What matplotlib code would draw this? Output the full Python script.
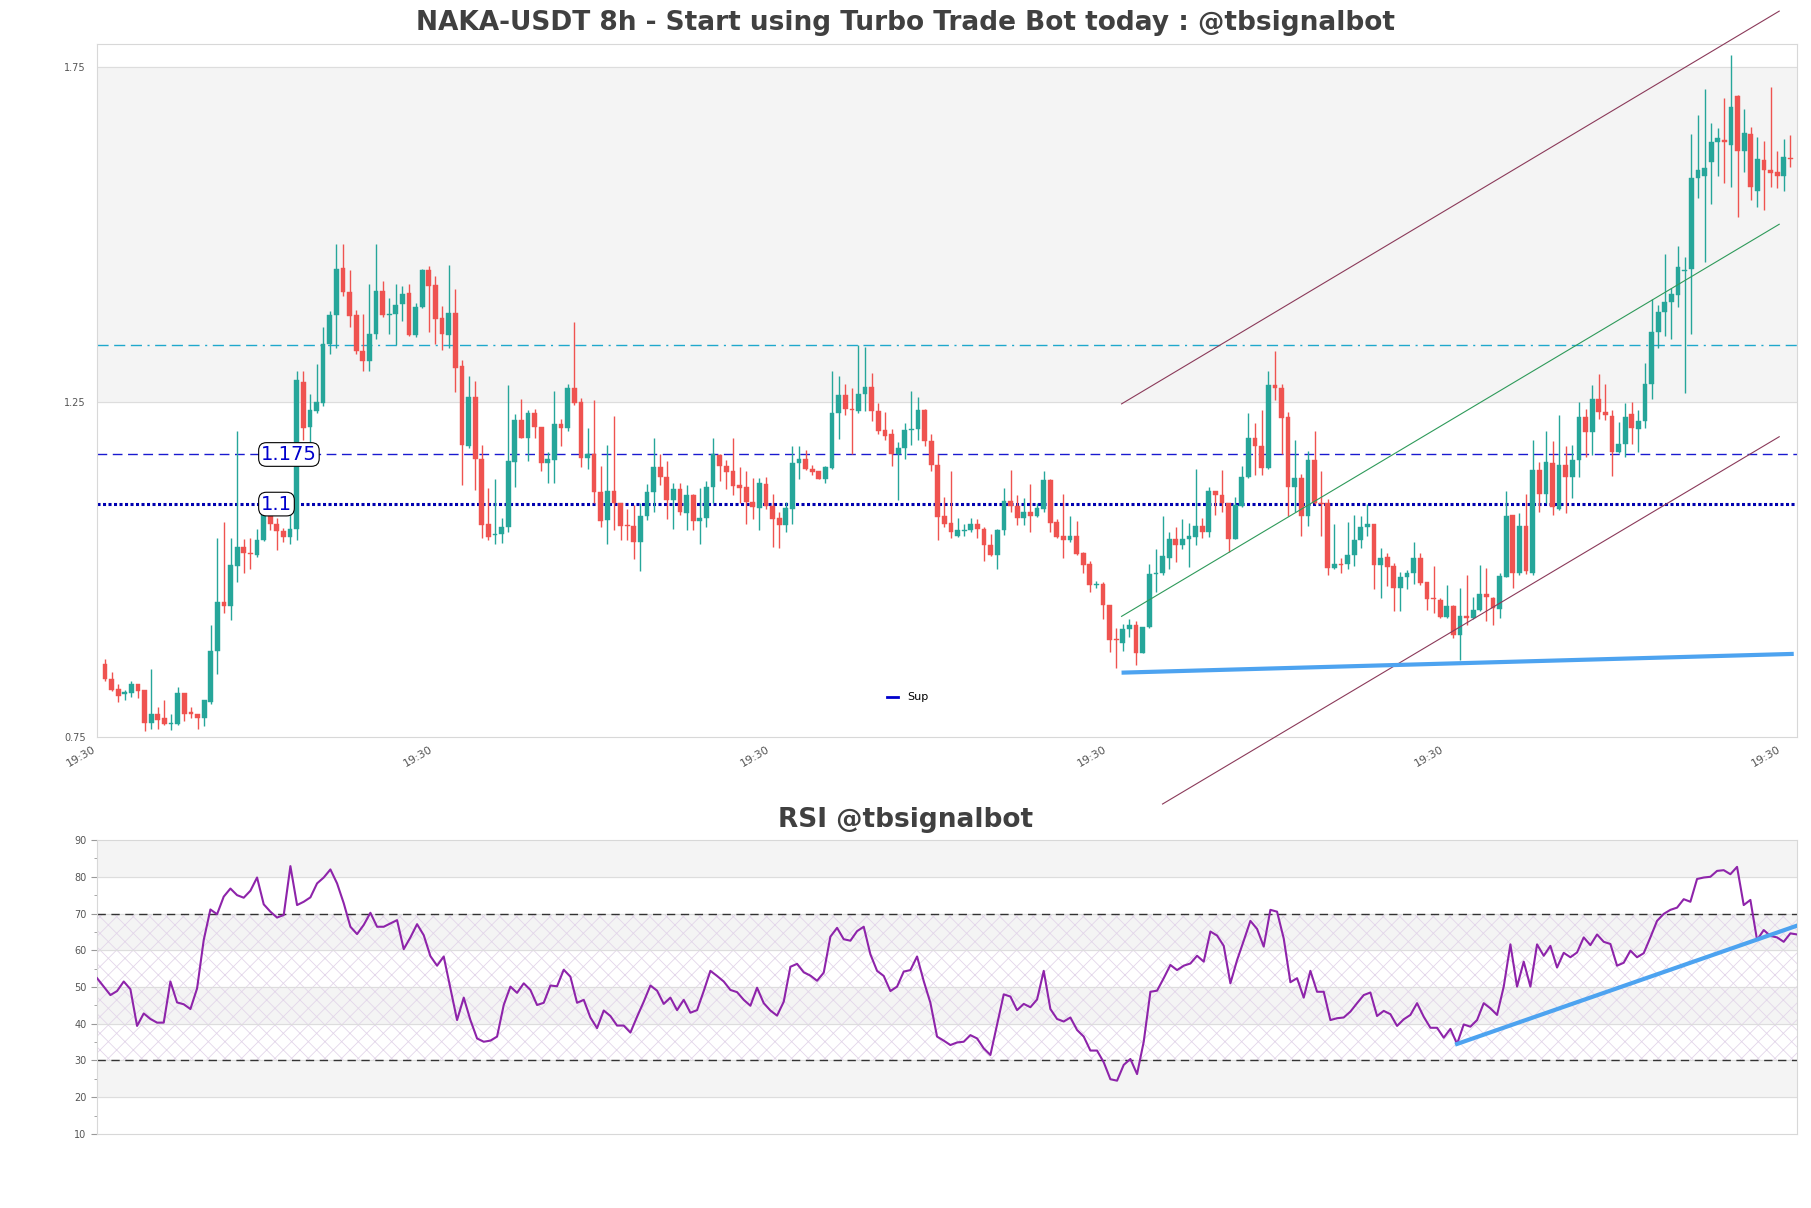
import numpy as np
import matplotlib
matplotlib.use("Agg")
import matplotlib.pyplot as plt
from matplotlib.lines import Line2D
from matplotlib.ticker import MultipleLocator, FixedLocator

# --- data (8h candles, index 0..255) ---
opens = [
    .859, .836, .8217, .8144, .8157, .829, .820, .771, .7845, .778,
    .769, .769, .8157, .787, .7845, .778, .8025, .8776, .9507, .9454,
    1.0053, 1.0339, 1.0252, 1.0219, 1.0439, 1.085, 1.0684, 1.0572, 1.0485, 1.0598,
    1.2799, 1.2128, 1.2367, 1.248, 1.3365, 1.3797, 1.4495, 1.4143, 1.379, 1.3265,
    1.3112, 1.3511, 1.4156, 1.379, 1.381, 1.3956, 1.4123, 1.3491, 1.3923, 1.4475,
    1.4242, 1.3757, 1.3497, 1.383, 1.3032, 1.1848, 1.258, 1.1649, 1.0684, 1.0512,
    1.0532, 1.0638, 1.1602, 1.2227, 1.1968, 1.2327, 1.2128, 1.1582, 1.1636, 1.2168,
    1.2114, 1.27, 1.2493, 1.1662, 1.1729, 1.115, 1.0731, 1.117, 1.0997, 1.0658,
    1.0651, 1.0405, 1.0804, 1.115, 1.1529, 1.1383, 1.103, 1.1203, 1.0837, 1.1117,
    1.0718, 1.0771, 1.1237, 1.1702, 1.1549, 1.1463, 1.1263, 1.123, 1.1004, 1.0917,
    1.127, 1.0951, 1.0771, 1.0665, 1.0904, 1.1582, 1.1649, 1.1503, 1.1463, 1.135,
    1.1516, 1.2334, 1.26, 1.2394, 1.236, 1.2613, 1.2726, 1.2367, 1.2081, 1.2015,
    1.1729, 1.1815, 1.2081, 1.2094, 1.238, 1.1915, 1.1562, 1.0798, 1.0698, 1.0505,
    1.0578, 1.0585, 1.0684, 1.0605, 1.0372, 1.0219, 1.0585, 1.1017, 1.095, 1.0771,
    1.0864, 1.0804, 1.0904, 1.1336, 1.0705, 1.0505, 1.0432, 1.0499, 1.0252, 1.0086,
    .9767, .9787, .9468, .8949, .8909, .9108, .9175, .8749, .9141, .9933,
    .994, 1.0173, 1.0452, 1.0372, 1.0452, 1.0485, 1.0651, 1.0552, 1.117, 1.1104,
    1.0984, 1.0452, 1.0951, 1.1383, 1.1961, 1.1835, 1.1516, 1.2759, 1.2713, 1.2281,
    1.123, 1.1363, 1.0804, 1.1636, 1.0984, 1.0984, 1.0019, 1.0079, 1.0086, 1.0219,
    1.0439, 1.0638, 1.0671, 1.0066, 1.0186, 1.0053, .972, .9887, .994, 1.0166,
    .9807, .9561, .954, .9288, .9454, .9022, .9308, .9275, .9388, .9634,
    .9574, .9408, .9886, 1.0818, .994, 1.0651, .9953, 1.1483, 1.113, 1.1583,
    1.0907, 1.1562, 1.1386, 1.1633, 1.2267, 1.2056, 1.2549, 1.2352, 1.2288, 1.1753,
    1.1866, 1.2317, 1.2091, 1.2211, 1.2761, 1.3536, 1.384, 1.3995, 1.41, 1.4453,
    1.4488, 1.5842, 1.5877, 1.6074, 1.6378, 1.6406, 1.6335, 1.7061, 1.625, 1.6497,
    1.5652, 1.611, 1.5962, 1.5933, 1.5863, 1.6145,
]
highs = [
    .867, .847, .829, .820, .834, .829, .820, .852, .7945, .8045,
    .7845, .8244, .8157, .7945, .7845, .8058, .9175, 1.0465, 1.0705, 1.0465,
    1.2068, 1.045, 1.0465, 1.0598, 1.0984, 1.093, 1.0771, 1.0618, 1.085, 1.2966,
    1.2966, 1.2613, 1.3059, 1.3611, 1.3863, 1.4854, 1.4854, 1.4462, 1.3877, 1.381,
    1.4256, 1.4854, 1.4309, 1.4043, 1.4256, 1.4229, 1.4256, 1.3976, 1.4488, 1.4522,
    1.4375, 1.393, 1.4542, 1.4189, 1.3132, 1.2879, 1.2806, 1.1862, 1.1217, 1.135,
    1.0764, 1.2759, 1.2314, 1.2547, 1.238, 1.2394, 1.2128, 1.1749, 1.2666, 1.2247,
    1.2766, 1.3697, 1.256, 1.2114, 1.2527, 1.1536, 1.1862, 1.2294, 1.0997, 1.0897,
    1.0964, 1.0984, 1.127, 1.1968, 1.1729, 1.1616, 1.1283, 1.1283, 1.1263, 1.113,
    1.1217, 1.1316, 1.1961, 1.1729, 1.1629, 1.1961, 1.1529, 1.1469, 1.1363, 1.1363,
    1.1383, 1.113, 1.0851, 1.1004, 1.1848, 1.1848, 1.1782, 1.1562, 1.1463, 1.1549,
    1.2966, 1.2892, 1.2766, 1.2713, 1.3345, 1.3325, 1.2926, 1.248, 1.2347, 1.2101,
    1.1895, 1.2181, 1.2666, 1.2566, 1.2394, 1.2028, 1.1729, 1.1084, 1.1463, 1.0771,
    1.0671, 1.0771, 1.0751, 1.0638, 1.0532, 1.0605, 1.1217, 1.1483, 1.1117, 1.1064,
    1.127, 1.0984, 1.1463, 1.135, 1.0751, 1.113, 1.0798, 1.0718, 1.0266, 1.0119,
    .9833, .982, .9468, .9122, .9188, .9255, .9228, .9141, 1.0086, 1.0305,
    1.0798, 1.0565, 1.0631, 1.0751, 1.0698, 1.1503, 1.0771, 1.123, 1.117, 1.1483,
    1.0984, 1.1084, 1.1549, 1.2327, 1.2181, 1.238, 1.2966, 1.3265, 1.2766, 1.2347,
    1.1928, 1.1429, 1.1768, 1.2068, 1.1463, 1.105, 1.0671, 1.0173, 1.0705, 1.0818,
    1.0804, 1.0971, 1.0671, 1.0319, 1.0252, 1.0099, .9966, .9986, 1.0405, 1.0252,
    .9807, 1.0053, .9567, .9774, .9468, .9721, .992, .9587, 1.0073, 1.002,
    .9587, .9953, 1.1163, 1.0818, 1.0838, 1.113, 1.1935, 1.1602, 1.2061, 1.1915,
    1.2303, 1.1844, 1.1858, 1.2493, 1.2387, 1.2747, 1.2916, 1.2761, 1.2373, 1.2197,
    1.2479, 1.2493, 1.2373, 1.3078, 1.403, 1.3938, 1.47, 1.4206, 1.4826, 1.4664,
    1.6497, 1.6779, 1.7167, 1.6659, 1.6589, 1.704, 1.7675, 1.7076, 1.6871, 1.6603,
    1.6448, 1.6392, 1.7202, 1.625, 1.6427, 1.6483,
]
lows = [
    .834, .819, .8025, .8058, .8104, .808, .759, .7626, .7626, .768,
    .7606, .768, .774, .779, .7626, .767, .799, .8444, .9355, .924,
    .982, .994, 1.0006, 1.0186, 1.042, 1.0585, 1.0285, 1.0405, 1.0385, 1.0439,
    1.1935, 1.1882, 1.2327, 1.2433, 1.3212, 1.3311, 1.4076, 1.3611, 1.3212, 1.2959,
    1.2959, 1.3444, 1.3764, 1.3511, 1.3345, 1.371, 1.3478, 1.3464, 1.3897, 1.3544,
    1.3358, 1.3278, 1.3311, 1.2646, 1.1263, 1.1815, 1.1183, 1.0465, 1.0439, 1.0385,
    1.0399, 1.0552, 1.1237, 1.1961, 1.1616, 1.1961, 1.1469, 1.1296, 1.1296, 1.1848,
    1.2061, 1.246, 1.1529, 1.1503, 1.0997, 1.0638, 1.0385, 1.0585, 1.0439, 1.0439,
    1.0153, .9973, 1.0738, 1.0851, 1.1263, 1.0751, 1.0598, 1.0818, 1.0585, 1.0585,
    1.0385, 1.0638, 1.0984, 1.1316, 1.1203, 1.1117, 1.0984, 1.0684, 1.0751, 1.0585,
    1.0904, 1.0339, 1.0319, 1.0565, 1.0684, 1.135, 1.1483, 1.1403, 1.135, 1.1283,
    1.1503, 1.1948, 1.23, 1.1715, 1.2327, 1.2367, 1.2214, 1.2015, 1.1935, 1.1549,
    1.103, 1.1649, 1.1862, 1.1928, 1.1835, 1.1469, 1.0439, 1.0638, 1.0465, 1.0485,
    1.0499, 1.0552, 1.0465, 1.0133, 1.0206, 1.0006, 1.0518, 1.0851, 1.0665, 1.0665,
    1.0552, 1.0785, 1.0864, 1.0565, 1.0472, 1.0166, 1.0405, 1.0219, .994, .9667,
    .972, .9255, .8769, .853, .8776, .8989, .8576, .8749, .9128, .9667,
    .992, 1.0006, 1.0106, 1.0306, 1.004, 1.0372, 1.0472, 1.0485, 1.0818, 1.0851,
    1.0266, 1.0452, 1.0931, 1.137, 1.1416, 1.1403, 1.1503, 1.2527, 1.1715, 1.0798,
    1.0851, 1.0505, 1.0651, 1.097, 1.0505, .992, 1.0006, .9953, 1.0006, 1.0053,
    1.0319, 1.0499, .9707, .9574, .9754, .9375, .9375, .9707, .9787, .9774,
    .9388, .9355, .9275, .9275, .8976, .8643, .9175, .9255, .9375, .9235,
    .9175, .9275, .9886, .972, .992, .9933, .992, 1.0864, 1.0984, 1.0808,
    1.0893, 1.0836, 1.1069, 1.1386, 1.1682, 1.1703, 1.2246, 1.2232, 1.14, 1.1739,
    1.1682, 1.1866, 1.1753, 1.2105, 1.2549, 1.3304, 1.348, 1.3445, 1.391, 1.2634,
    1.3515, 1.5546, 1.4594, 1.5454, 1.5863, 1.5771, 1.5708, 1.5264, 1.5934, 1.551,
    1.5405, 1.5369, 1.5701, 1.5687, 1.5652, 1.6004,
]
closes = [
    .836, .8204, .8111, .8177, .829, .819, .771, .7845, .776, .769,
    .7705, .8157, .7845, .7845, .778, .8045, .8776, .9507, .9454, 1.0066,
    1.0339, 1.0252, 1.0232, 1.0439, 1.0884, 1.0684, 1.0572, 1.0485, 1.0598, 1.2832,
    1.2114, 1.238, 1.2493, 1.3365, 1.3797, 1.4488, 1.4143, 1.3777, 1.3258, 1.3112,
    1.3511, 1.4156, 1.379, 1.381, 1.3943, 1.4109, 1.3491, 1.3923, 1.4475, 1.4229,
    1.3743, 1.3511, 1.383, 1.3012, 1.1862, 1.258, 1.1649, 1.0665, 1.0485, 1.0532,
    1.0638, 1.1616, 1.2234, 1.1968, 1.2327, 1.2128, 1.1582, 1.1649, 1.2168, 1.2114,
    1.27, 1.248, 1.1662, 1.1729, 1.115, 1.0718, 1.117, 1.0984, 1.0651, 1.0645,
    1.0405, 1.0804, 1.115, 1.1529, 1.1383, 1.103, 1.1203, 1.0851, 1.1104, 1.0718,
    1.0771, 1.1237, 1.1715, 1.1549, 1.1449, 1.125, 1.1217, 1.1004, 1.0931, 1.1283,
    1.0951, 1.0751, 1.0665, 1.0917, 1.1582, 1.1649, 1.1503, 1.1449, 1.135, 1.1529,
    1.2334, 1.26, 1.2394, 1.238, 1.2613, 1.2726, 1.2367, 1.2068, 1.1995, 1.1729,
    1.1815, 1.2081, 1.2101, 1.238, 1.1915, 1.1562, 1.0784, 1.0684, 1.0552, 1.0585,
    1.0592, 1.0684, 1.0605, 1.0372, 1.0219, 1.0585, 1.1017, 1.095, 1.0771, 1.0851,
    1.0804, 1.0917, 1.133, 1.0698, 1.0485, 1.0439, 1.0499, 1.0232, 1.0073, .9767,
    .9774, .9468, .8942, .8942, .9108, .9175, .8749, .9141, .9933, .9953,
    1.0199, 1.045, 1.0372, 1.0452, 1.0505, 1.0651, 1.0552, 1.117, 1.1104, 1.0984,
    1.0452, 1.0964, 1.1383, 1.1961, 1.1835, 1.1516, 1.2759, 1.2713, 1.2261, 1.123,
    1.1369, 1.0804, 1.1636, 1.0984, 1.0977, 1.0019, 1.0086, 1.0066, 1.0219, 1.0439,
    1.0631, 1.0671, 1.0066, 1.0173, 1.004, .972, .9887, .9953, 1.0166, .98,
    .9554, .9554, .9288, .9454, .9022, .9308, .9275, .9401, .9634, .9587,
    .9421, .9899, 1.0804, .994, 1.0651, .9973, 1.1483, 1.113, 1.1596, 1.0928,
    1.1562, 1.1386, 1.1633, 1.2267, 1.2056, 1.2549, 1.2352, 1.2303, 1.1753, 1.1866,
    1.2267, 1.2105, 1.2211, 1.2761, 1.355, 1.384, 1.3995, 1.4114, 1.4509, 1.446,
    1.5842, 1.5955, 1.5983, 1.6378, 1.6441, 1.6378, 1.6906, 1.625, 1.6512, 1.5701,
    1.6131, 1.5955, 1.5919, 1.5863, 1.6159, 1.6131,
]
rsi = [
    52.4, 50.1, 47.8, 48.9, 51.5, 49.4, 39.4, 42.8, 41.3, 40.3,
    40.3, 51.5, 45.8, 45.3, 44.0, 49.6, 62.8, 71.1, 69.8, 74.6,
    76.8, 75.0, 74.3, 76.2, 79.8, 72.5, 70.5, 68.9, 69.6, 82.9,
    72.3, 73.2, 74.4, 78.2, 79.8, 82.0, 78.2, 72.8, 66.4, 64.4,
    66.9, 70.2, 66.4, 66.4, 67.3, 68.2, 60.3, 63.5, 67.1, 64.1,
    58.4, 55.8, 58.3, 49.6, 41.0, 47.1, 41.0, 36.0, 35.1, 35.4,
    36.5, 45.1, 50.1, 48.4, 51.0, 49.2, 45.1, 45.7, 50.4, 50.2,
    54.7, 52.8, 45.7, 46.5, 41.7, 38.8, 43.6, 42.1, 39.5, 39.5,
    37.6, 41.9, 46.0, 50.4, 49.0, 45.4, 47.1, 43.7, 46.5, 43.0,
    43.7, 48.9, 54.4, 53.0, 51.5, 49.2, 48.6, 46.5, 44.9, 49.8,
    45.6, 43.6, 42.2, 46.0, 55.5, 56.3, 54.0, 53.1, 51.7, 53.9,
    63.7, 66.1, 63.0, 62.6, 65.2, 66.4, 58.9, 54.4, 53.0, 48.9,
    50.1, 54.2, 54.6, 58.3, 51.6, 45.7, 36.5, 35.4, 34.2, 34.9,
    35.1, 36.9, 36.0, 33.3, 31.5, 39.7, 48.0, 47.4, 43.7, 45.4,
    44.5, 46.6, 54.4, 44.0, 41.3, 40.6, 41.7, 38.3, 36.5, 32.7,
    32.7, 29.5, 24.9, 24.5, 28.8, 30.4, 26.3, 35.1, 48.7, 49.0,
    52.4, 56.0, 54.6, 55.8, 56.4, 58.5, 56.9, 65.1, 64.0, 61.2,
    51.0, 57.3, 62.6, 68.0, 65.8, 61.0, 71.0, 70.5, 63.2, 51.3,
    52.4, 47.1, 54.4, 48.7, 48.7, 41.0, 41.5, 41.7, 43.3, 45.6,
    47.8, 48.5, 42.1, 43.5, 42.6, 39.4, 41.2, 42.4, 45.6, 41.9,
    38.9, 38.9, 36.2, 38.6, 34.5, 39.8, 39.2, 41.0, 45.6, 44.2,
    42.4, 50.1, 61.6, 50.1, 56.9, 50.1, 61.6, 58.5, 61.2, 55.3,
    59.3, 58.1, 59.4, 63.5, 61.4, 64.3, 62.3, 61.7, 55.8, 56.6,
    59.9, 58.1, 59.2, 63.5, 68.0, 69.9, 71.0, 71.6, 73.9, 73.2,
    79.4, 79.8, 80.0, 81.6, 81.8, 80.7, 82.7, 72.3, 73.7, 62.8,
    65.5, 63.9, 63.5, 62.3, 64.6, 64.3,
]

# levels and trend lines
res_level = 1.335
lvl_upper = 1.1715
lvl_lower = 1.0975
lvl_labels = ["1.175", "1.1"]
chan_x = [153.8, 253.3]
chan_top = [1.247, 1.833]
chan_mid = [0.930, 1.515]
chan_low_x = [160.0, 253.3]
chan_low = [0.650, 1.198]
sup_x = [153.8, 255.5]
sup_y = [0.846, 0.874]
rsi_tr_x = [204, 255]
rsi_tr_y = [34.5, 66.7]
tick_pos = [-1.2, 49.8, 100.8, 151.8, 202.8, 253.8]
tick_lbl = ['19:30'] * 6

UP = '#26a69a'
DOWN = '#ef5350'
TXT = '#404040'

plt.rcParams['hatch.linewidth'] = 0.6
fig = plt.figure(figsize=(18.11, 12.08), dpi=100)
ax = fig.add_axes([0.0536, 0.3899, 0.9387, 0.5737])
ax2 = fig.add_axes([0.0536, 0.0613, 0.9387, 0.2433])

o = np.array(opens); h = np.array(highs); l = np.array(lows); c = np.array(closes)
x = np.arange(len(o))
up = c >= o
cols = np.where(up, UP, DOWN)

# --- main chart ---
ax.axhspan(1.25, 1.75, color='#f4f4f4', zorder=0)
for yv in (1.25, 1.75):
    ax.axhline(yv, color='#dddddd', lw=0.8, zorder=0.5)

ax.vlines(x, l, h, colors=cols, lw=1.0, zorder=2)
body = np.maximum(np.abs(c - o), 0.0015)
ax.bar(x, body, bottom=np.minimum(o, c), width=0.72, color=cols, edgecolor=cols, lw=0.3, zorder=3)

ax.axhline(res_level, color='#1fa8cc', lw=1.0, ls=(0, (8, 4, 8, 4, 8, 4, 1.5, 4)), zorder=1)
ax.axhline(lvl_upper, color='#1a1ad0', lw=1.0, ls=(0, (7, 4)), zorder=1)
ax.axhline(lvl_lower, color='#0000b0', lw=2.2, ls=(0, (1, 0.8)), zorder=1)
for yv, t in zip([lvl_upper, lvl_lower], lvl_labels):
    ax.text(23.6, yv, t, color='#0000cc', fontsize=14, va='center', ha='left', zorder=5,
            bbox=dict(boxstyle='round,pad=0.12,rounding_size=0.4', fc='white', ec='black', lw=0.8))

ax.plot(chan_x, chan_top, color='#8b3a5a', lw=0.8, clip_on=False, zorder=4)
ax.plot(chan_x, chan_mid, color='#2e9a5a', lw=0.8, clip_on=False, zorder=4)
ax.plot(chan_low_x, chan_low, color='#8b3a5a', lw=0.8, clip_on=False, zorder=4)
ax.plot(sup_x, sup_y, color='#4da3f0', lw=3.0, solid_capstyle='butt', zorder=4)

ax.set_xlim(-1.06, 256.0)
ax.set_ylim(0.75, 1.784)
ax.yaxis.set_major_locator(FixedLocator([0.75, 1.25, 1.75]))
ax.tick_params(axis='y', length=0, labelsize=7, labelcolor='#555555', pad=8)
ax.set_xticks(tick_pos)
ax.set_xticklabels(tick_lbl, rotation=30, ha='right', fontsize=8, color='#555555')
ax.tick_params(axis='x', length=0, pad=5)
for s in ax.spines.values():
    s.set_color('#d8d8d8')
sup_handle = Line2D([], [], color='#0000cc', lw=2)
ax.legend([sup_handle], ['Sup'], loc='center', bbox_to_anchor=(0.477, 0.057), frameon=False,
          fontsize=8, handlelength=1.0, handletextpad=0.8)

fig.text(0.5, 0.981, 'NAKA-USDT 8h - Start using Turbo Trade Bot today : @tbsignalbot',
         ha='center', va='center', fontsize=19, fontweight='bold', color=TXT)

# --- RSI panel ---
xr = np.arange(len(rsi))
for lo in (20, 40, 60, 80):
    ax2.axhspan(lo, lo + 10, color='#f4f4f4', zorder=0)
ax2.fill_between([0, len(rsi) - 1], 30, 70, facecolor='none', hatch='xx',
                 edgecolor='#e3d6ea', lw=0, zorder=0.6)
for yv in range(20, 90, 10):
    ax2.axhline(yv, color='#dddddd', lw=0.8, zorder=0.7)
ax2.axhline(70, color='#333333', lw=1.0, ls=(0, (6, 4)), zorder=1)
ax2.axhline(30, color='#333333', lw=1.0, ls=(0, (6, 4)), zorder=1)
ax2.plot(xr, rsi, color='#8e24aa', lw=1.5, zorder=3)
ax2.plot(rsi_tr_x, rsi_tr_y, color='#4da3f0', lw=3.0, zorder=4)
ax2.set_xlim(0, len(rsi) - 1)
ax2.set_ylim(10, 90)
ax2.yaxis.set_major_locator(MultipleLocator(10))
ax2.yaxis.set_minor_locator(MultipleLocator(5))
ax2.tick_params(axis='y', which='major', length=4, color='#999999', labelsize=7, labelcolor='#555555')
ax2.tick_params(axis='y', which='minor', length=2, color='#999999')
ax2.set_xticks([])
for s in ax2.spines.values():
    s.set_color('#d8d8d8')
fig.text(0.5, 0.321, 'RSI @tbsignalbot', ha='center', va='center', fontsize=19,
         fontweight='bold', color=TXT)

fig.savefig('out.png', dpi=100, facecolor='white')
